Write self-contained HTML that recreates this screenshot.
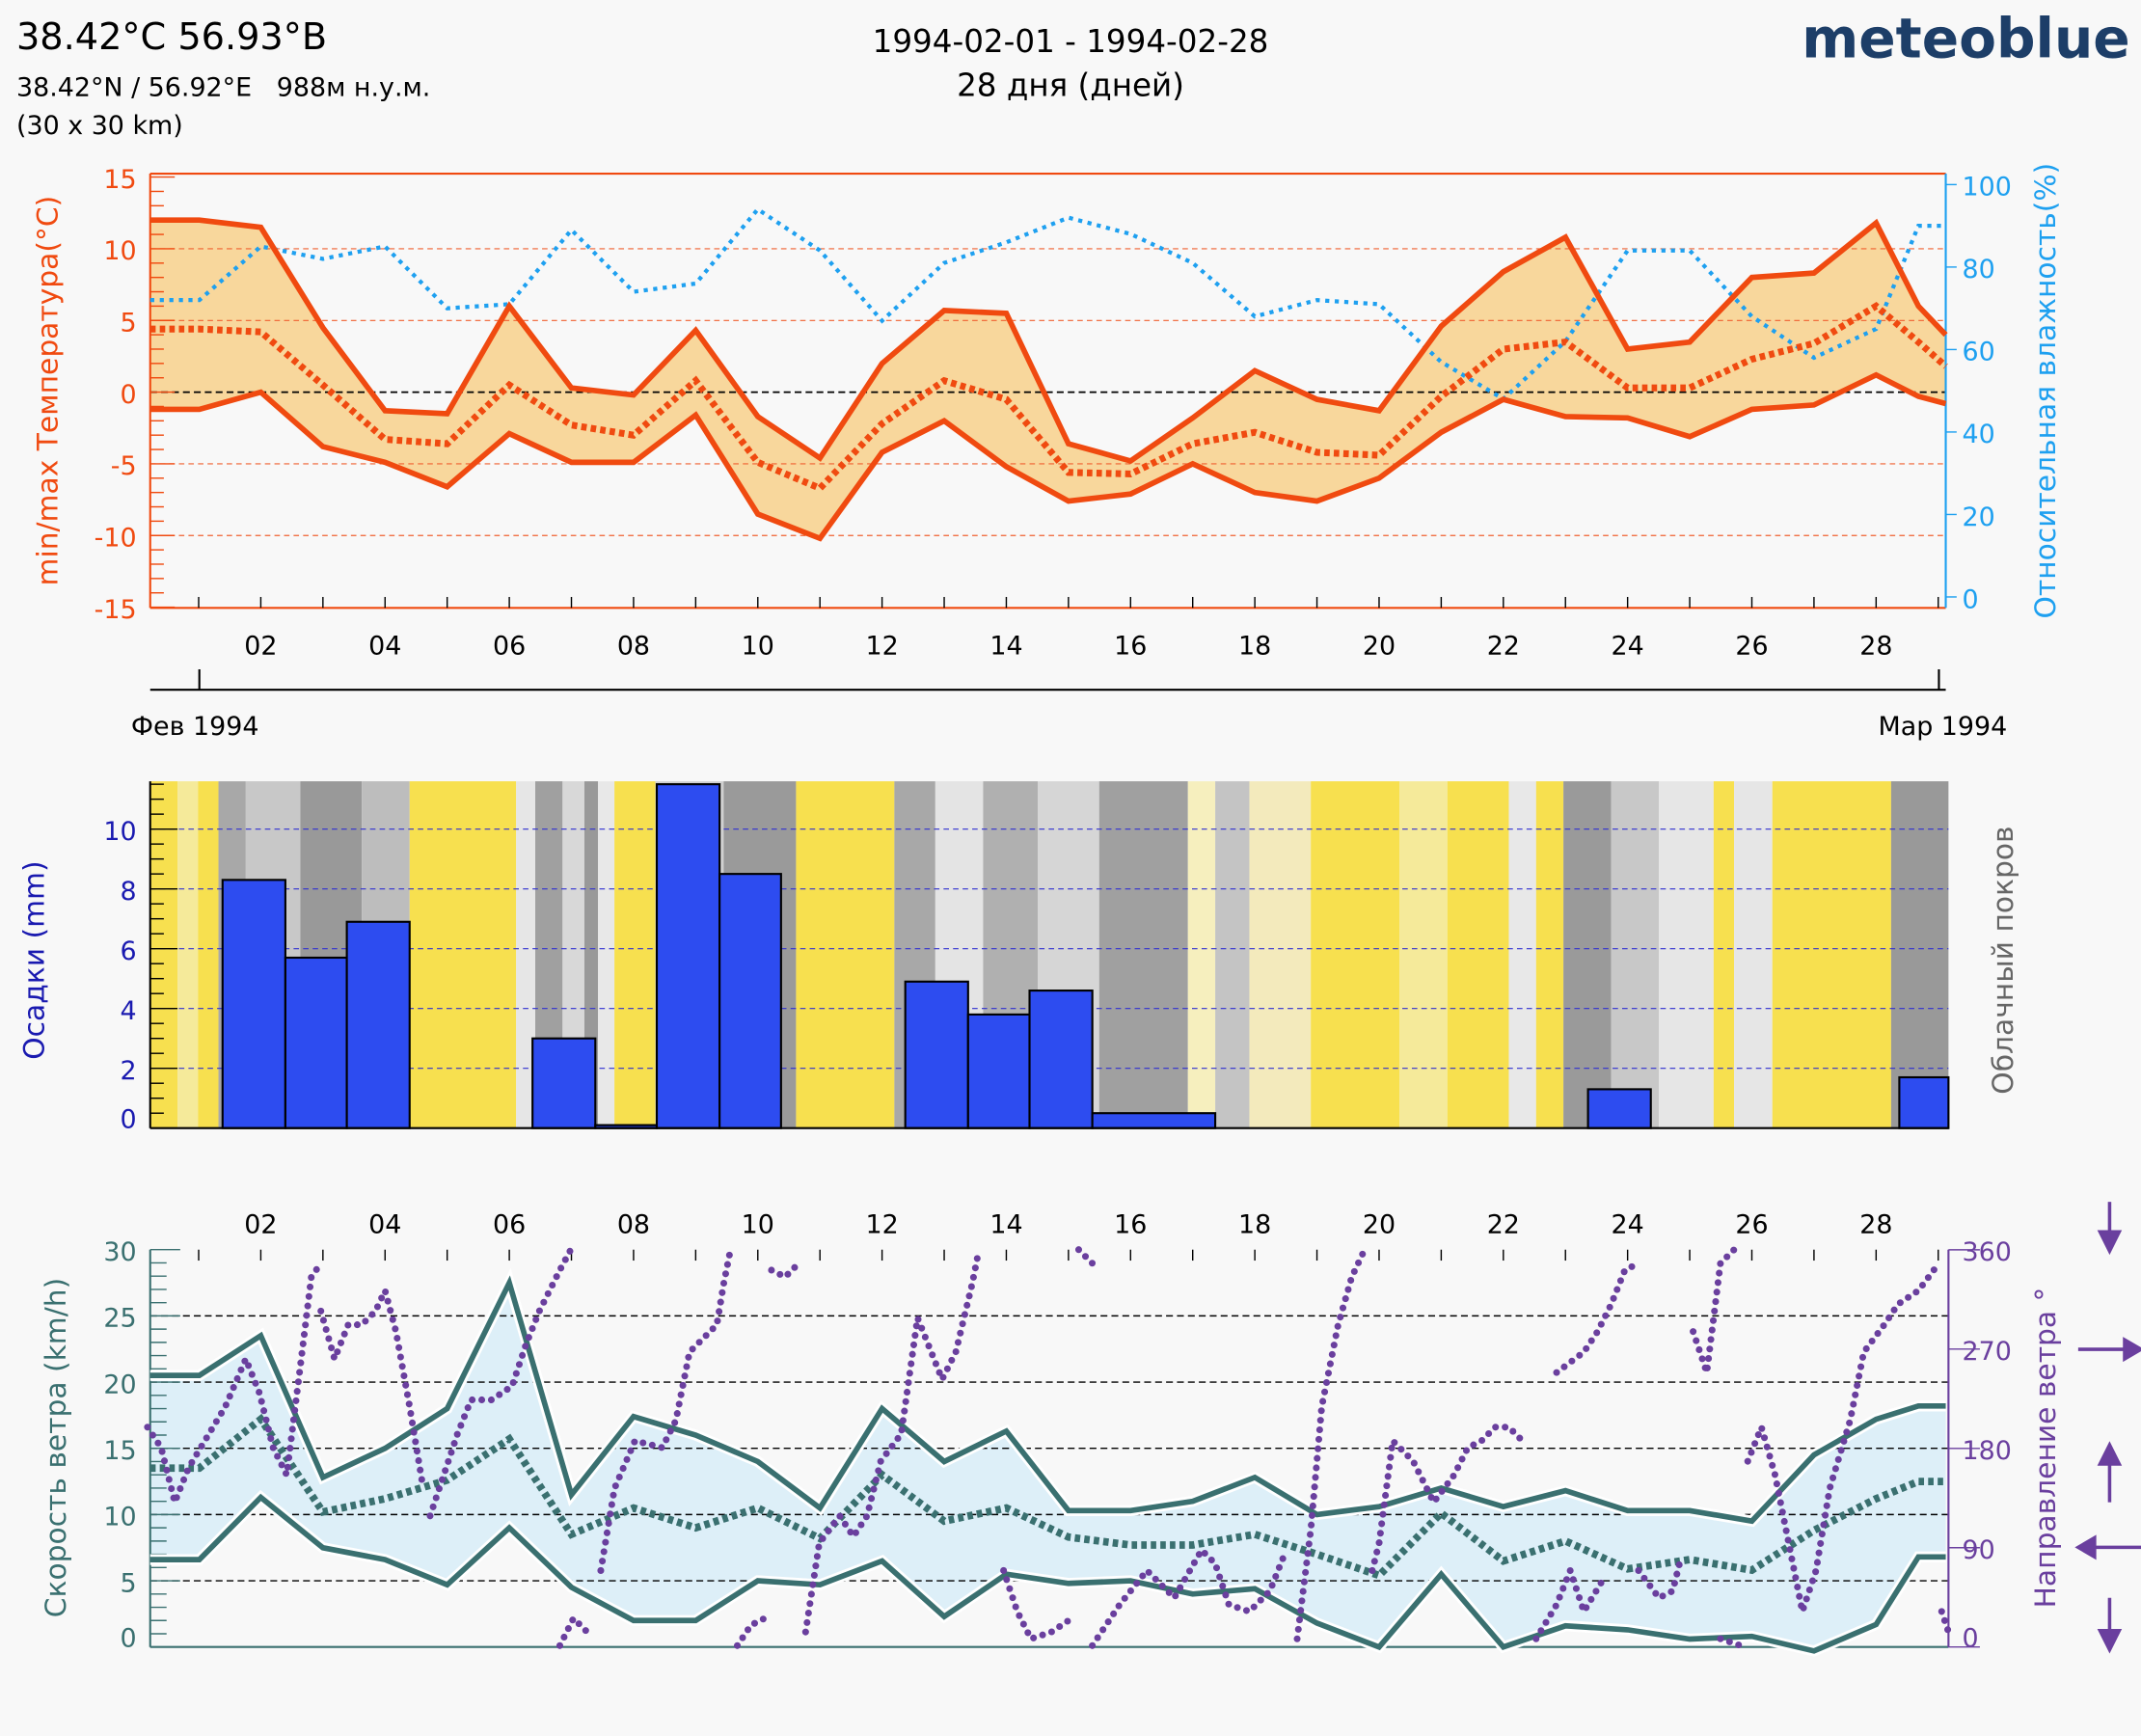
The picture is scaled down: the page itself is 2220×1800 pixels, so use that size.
<!DOCTYPE html>
<html><head><meta charset="utf-8">
<style>
html,body{margin:0;padding:0;background:#f8f8f8;}
svg{display:block;font-family:"DejaVu Sans","Liberation Sans",sans-serif;}
</style></head>
<body>
<svg id="s" width="2220" height="1800" viewBox="0 0 1568 1271" xmlns="http://www.w3.org/2000/svg">
<rect width="1568" height="1271" fill="#f8f8f8"/>
<text x="12" y="36" font-size="27" fill="#000">38.42°C 56.93°B</text>
<text x="12" y="70" font-size="19" fill="#000" xml:space="preserve">38.42°N / 56.92°E   988м н.у.м.</text>
<text x="12" y="98" font-size="19" fill="#000">(30 x 30 km)</text>
<text x="784" y="38" font-size="23" text-anchor="middle">1994-02-01 - 1994-02-28</text>
<text x="784" y="70" font-size="23" text-anchor="middle">28 дня (дней)</text>
<text x="1560" y="42" font-size="40" font-weight="bold" fill="#1d3e68" text-anchor="end">meteoblue</text>

<g id="top"></g>
<g id="mid"></g>
<g id="bot"></g>

<text transform="translate(42,286) rotate(-90)" font-size="21" fill="#f04a10" text-anchor="middle">min/max Температура(°C)</text>
<text transform="translate(1505,286) rotate(-90)" font-size="21" fill="#1ea0f0" text-anchor="middle">Относительная влажность(%)</text>
<text transform="translate(32,703) rotate(-90)" font-size="21" fill="#1a1ab0" text-anchor="middle">Осадки (mm)</text>
<text transform="translate(1474,703) rotate(-90)" font-size="21" fill="#666" text-anchor="middle">Облачный покров</text>
<text transform="translate(48,1060) rotate(-90)" font-size="21" fill="#3a7070" text-anchor="middle">Скорость ветра (km/h)</text>
<text transform="translate(1505,1060) rotate(-90)" font-size="21" fill="#6a3f9e" text-anchor="middle">Направление ветра °</text>

<line x1="110" y1="505" x2="1425" y2="505" stroke="#000" stroke-width="1.5"/>
<line x1="146" y1="490" x2="146" y2="505" stroke="#000" stroke-width="1.5"/>
<line x1="1420" y1="490" x2="1420" y2="505" stroke="#000" stroke-width="1.5"/>
<text x="96" y="538" font-size="19">Фев 1994</text>
<text x="1470" y="538" font-size="19" text-anchor="end">Мар 1994</text>

<g stroke="#6a3f9e" stroke-width="2.5" fill="#6a3f9e">
<line x1="1545" y1="880" x2="1545" y2="910"/><polygon points="1538,902 1552,902 1545,916"/>
<line x1="1522" y1="988" x2="1560" y2="988"/><polygon points="1556,981 1556,995 1568,988"/>
<line x1="1545" y1="1100" x2="1545" y2="1070"/><polygon points="1538,1072 1552,1072 1545,1058"/>
<line x1="1530" y1="1133" x2="1568" y2="1133"/><polygon points="1534,1126 1534,1140 1522,1133"/>
<line x1="1545" y1="1170" x2="1545" y2="1200"/><polygon points="1538,1194 1552,1194 1545,1208"/>
</g>

<script>
const NS="http://www.w3.org/2000/svg";
function el(p,t,a,txt){const e=document.createElementNS(NS,t);for(const k in a)e.setAttribute(k,a[k]);if(txt!==undefined)e.textContent=txt;document.getElementById(p).appendChild(e);return e;}
const X=[110,146];for(let d=2;d<=28;d++)X.push(100+45.5*d);X.push(1405,1425);
function pts(vals,f){return vals.map((v,i)=>X[i]+","+f(v).toFixed(1)).join(" ");}
const ty=t=>287-10.5*t, hy=h=>437-3.02*h;
const tmax=[12,12,11.5,4.5,-1.3,-1.5,6,0.3,-0.2,4.3,-1.7,-4.6,2,5.7,5.5,-3.6,-4.8,-1.8,1.5,-0.5,-1.3,4.6,8.4,10.8,3,3.5,8,8.3,11.8,6,4];
const tmin=[-1.2,-1.2,0,-3.8,-4.9,-6.6,-2.9,-4.9,-4.9,-1.6,-8.5,-10.2,-4.2,-2,-5.2,-7.6,-7.1,-5,-7,-7.6,-6,-2.8,-0.5,-1.7,-1.8,-3.1,-1.2,-0.9,1.2,-0.3,-0.8];
const tmean=[4.4,4.4,4.2,0.5,-3.3,-3.6,0.5,-2.3,-3,0.8,-4.9,-6.7,-2.2,0.8,-0.5,-5.6,-5.7,-3.6,-2.8,-4.2,-4.4,-0.3,3,3.5,0.3,0.3,2.3,3.4,6,3.5,1.8];
const hum=[72,72,85,82,85,70,71,89,74,76,94,84,67,81,86,92,88,81,68,72,71,57,48,62,84,84,68,58,65,90,90];
el("top","rect",{x:110,y:127,width:1315,height:318,fill:"#f8f8f8"});
el("top","polygon",{points:pts(tmax,ty)+" "+X.map((x,i)=>x+","+ty(tmin[i])).reverse().join(" "),fill:"#f8d79c"});
[10,5,-5,-10].forEach(t=>el("top","line",{x1:110,x2:1425,y1:ty(t),y2:ty(t),stroke:"#f06030","stroke-width":0.8,"stroke-dasharray":"4 3"}));
el("top","line",{x1:110,x2:1425,y1:287,y2:287,stroke:"#000","stroke-width":1.2,"stroke-dasharray":"5 3"});
el("top","line",{x1:110,x2:1425,y1:127,y2:127,stroke:"#f04a10","stroke-width":1.5});
el("top","line",{x1:110,x2:1425,y1:445,y2:445,stroke:"#f04a10","stroke-width":1.5});
el("top","line",{x1:110,x2:110,y1:127,y2:445,stroke:"#f04a10","stroke-width":1.5});
el("top","line",{x1:1425,x2:1425,y1:127,y2:445,stroke:"#1ea0f0","stroke-width":1.5});
for(let t=-15;t<=15;t++){el("top","line",{x1:110,x2:t%5==0?128:120,y1:ty(t),y2:ty(t),stroke:"#f04a10","stroke-width":1});}
[15,10,5,0,-5,-10,-15].forEach(t=>el("top","text",{x:100,y:ty(t)+8,"font-size":19,fill:"#f04a10","text-anchor":"end"},t));
[0,20,40,60,80,100].forEach(h=>{el("top","text",{x:1437,y:hy(h)+8,"font-size":19,fill:"#1ea0f0"},h);el("top","line",{x1:1425,x2:1433,y1:hy(h),y2:hy(h),stroke:"#1ea0f0"});});
for(let d=1;d<=29;d++){const x=100+45.5*d;el("top","line",{x1:x,x2:x,y1:437,y2:445,stroke:"#000"});if(d%2==0&&d<=28)el("top","text",{x:x,y:479,"font-size":19,"text-anchor":"middle"},(d<10?"0":"")+d);}
el("top","polyline",{points:pts(hum,hy),fill:"none",stroke:"#1ea0f0","stroke-width":3,"stroke-dasharray":"3 4"});
el("top","polyline",{points:pts(tmax,ty),fill:"none",stroke:"#f04a10","stroke-width":4});
el("top","polyline",{points:pts(tmin,ty),fill:"none",stroke:"#f04a10","stroke-width":4});
el("top","polyline",{points:pts(tmean,ty),fill:"none",stroke:"#f04a10","stroke-width":5,"stroke-dasharray":"4 3"});
const clouds=[[110,130,"#f7e04f"],[130,145,"#f5ea9a"],[145,160,"#f7e04f"],[160,180,"#a8a8a8"],[180,220,"#c8c8c8"],[220,265,"#999"],[265,300,"#bdbdbd"],[300,378,"#f7e04f"],[378,392,"#e6e6e6"],[392,412,"#a0a0a0"],[412,428,"#d8d8d8"],[428,438,"#999"],[438,450,"#e8e8e8"],[450,480,"#f7e04f"],[480,530,"#d0d0d0"],[530,583,"#9a9a9a"],[583,655,"#f7e04f"],[655,685,"#a8a8a8"],[685,720,"#e4e4e4"],[720,760,"#b0b0b0"],[760,805,"#d6d6d6"],[805,870,"#a0a0a0"],[870,890,"#f6efbe"],[890,915,"#c4c4c4"],[915,960,"#f3eabc"],[960,1025,"#f7e04f"],[1025,1060,"#f5ea9a"],[1060,1105,"#f7e04f"],[1105,1125,"#e8e8e8"],[1125,1145,"#f7e04f"],[1145,1180,"#9a9a9a"],[1180,1215,"#c8c8c8"],[1215,1255,"#e6e6e6"],[1255,1270,"#f7e04f"],[1270,1298,"#e6e6e6"],[1298,1385,"#f7e04f"],[1385,1427,"#999"]];
clouds.forEach(c=>el("mid","rect",{x:c[0],y:572,width:c[1]-c[0],height:254,fill:c[2]}));
const py=p=>826-21.9*p;
[2,4,6,8,10].forEach(p=>el("mid","line",{x1:110,x2:1427,y1:py(p),y2:py(p),stroke:"#3030d0","stroke-width":0.8,"stroke-dasharray":"4 3"}));
const bars=[[163,209,8.3],[209,254,5.7],[254,300,6.9],[390,436,3],[436,481,0.1],[481,527,11.5],[527,572,8.5],[663,709,4.9],[709,754,3.8],[754,800,4.6],[800,890,0.5],[1163,1209,1.3],[1391,1427,1.7]];
bars.forEach(b=>el("mid","rect",{x:b[0],y:py(b[2]),width:b[1]-b[0],height:826-py(b[2]),fill:"#2d4cf0",stroke:"#000","stroke-width":1.5}));
el("mid","line",{x1:110,x2:1427,y1:826,y2:826,stroke:"#000","stroke-width":1.5});
el("mid","line",{x1:110,x2:110,y1:572,y2:826,stroke:"#000","stroke-width":1.5});
for(let p=0;p<=11.5;p+=0.5)el("mid","line",{x1:110,x2:p%2==0?130:120,y1:py(p),y2:py(p),stroke:"#000","stroke-width":1});
[0,2,4,6,8,10].forEach(p=>el("mid","text",{x:100,y:py(p)+(p==0?0:8),"font-size":19,fill:"#1a1ab0","text-anchor":"end"},p));
const wy=v=>1206-9.7*v, dy=d=>1206-0.808*d;
const wmax=[20.5,20.5,23.5,12.8,15,18,27.5,11.5,17.4,16,14,10.5,18,14,16.3,10.3,10.3,11,12.8,10,10.6,12,10.6,11.8,10.3,10.3,9.5,14.5,17.2,18.2,18.2];
const wmin=[6.6,6.6,11.3,7.5,6.6,4.7,9,4.5,2,2,5,4.7,6.5,2.3,5.5,4.8,5,4,4.4,1.8,0,5.5,0,1.6,1.3,0.6,0.8,-0.3,1.7,6.8,6.8];
const wmean=[13.5,13.5,17.2,10.2,11.2,12.6,15.7,8.5,10.5,9,10.5,8.2,13,9.5,10.5,8.3,7.7,7.7,8.5,7,5.4,10.1,6.5,8,5.9,6.6,5.8,8.8,11.2,12.5,12.5];
el("bot","polygon",{points:pts(wmax,wy)+" "+X.map((x,i)=>x+","+wy(wmin[i])).reverse().join(" "),fill:"#ddeff8"});
[5,10,15,20,25].forEach(v=>el("bot","line",{x1:110,x2:1427,y1:wy(v),y2:wy(v),stroke:"#000","stroke-width":1,"stroke-dasharray":"5 3"}));
el("bot","line",{x1:110,x2:1427,y1:1206,y2:1206,stroke:"#3a7070","stroke-width":1.5});
el("bot","line",{x1:110,x2:110,y1:915,y2:1206,stroke:"#3a7070","stroke-width":1.5});
el("bot","line",{x1:1427,x2:1427,y1:915,y2:1206,stroke:"#6a3f9e","stroke-width":1.5});
for(let v=0;v<=30;v++)el("bot","line",{x1:110,x2:v%5==0?132:122,y1:wy(v),y2:wy(v),stroke:"#3a7070","stroke-width":1});
[0,5,10,15,20,25,30].forEach(v=>el("bot","text",{x:100,y:wy(v)+(v==0?0:8),"font-size":19,fill:"#3a7070","text-anchor":"end"},v));
[0,90,180,270,360].forEach(d=>{el("bot","text",{x:1437,y:dy(d)+(d==0?0:8),"font-size":19,fill:"#6a3f9e"},d);el("bot","line",{x1:1427,x2:1450,y1:dy(d),y2:dy(d),stroke:"#6a3f9e"});});
for(let d=1;d<=29;d++){const x=100+45.5*d;el("bot","line",{x1:x,x2:x,y1:915,y2:923,stroke:"#000"});if(d%2==0&&d<=28)el("bot","text",{x:x,y:903,"font-size":19,"text-anchor":"middle"},(d<10?"0":"")+d);}
el("bot","polyline",{points:pts(wmax,wy),fill:"none",stroke:"#fff","stroke-width":8});
el("bot","polyline",{points:pts(wmin,wy),fill:"none",stroke:"#fff","stroke-width":8});
el("bot","polyline",{points:pts(wmax,wy),fill:"none",stroke:"#3a7070","stroke-width":4});
el("bot","polyline",{points:pts(wmin,wy),fill:"none",stroke:"#3a7070","stroke-width":4});
el("bot","polyline",{points:pts(wmean,wy),fill:"none",stroke:"#3a7070","stroke-width":5.5,"stroke-dasharray":"4 3"});
const segs=[
[[108,1045],[118,1060],[128,1100],[138,1075],[150,1055],[165,1030],[180,995],[190,1020],[200,1060],[210,1080],[220,1000],[228,935],[235,925]],
[[235,960],[245,995],[255,970],[265,970],[275,960],[282,945],[290,975],[300,1030],[310,1090]],
[[315,1110],[325,1080],[335,1050],[345,1025],[360,1025],[375,1015],[385,985],[395,960],[410,930],[418,915]],
[[410,1205],[420,1185],[430,1195]],
[[440,1150],[450,1090],[465,1055],[485,1060],[495,1040],[505,990],[515,980],[525,970],[530,940],[535,915]],
[[540,1205],[550,1190],[560,1185]],
[[565,930],[575,935],[585,925]],
[[590,1195],[600,1130],[615,1110],[625,1125],[635,1110],[645,1070],[660,1050],[672,965],[680,985],[690,1010],[700,990],[712,940],[716,920]],
[[735,1150],[745,1180],[755,1200],[770,1195],[785,1185]],[[790,915],[800,925]],
[[800,1205],[820,1175],[840,1150],[860,1170],[880,1135],[890,1145],[900,1175],[915,1180],[930,1165],[940,1140]],
[[950,1200],[960,1120],[968,1030],[980,970],[990,935],[998,918]],
[[1005,1150],[1010,1130],[1020,1055],[1035,1070],[1050,1100],[1065,1080],[1075,1060],[1085,1055],[1095,1045],[1105,1045],[1115,1055]],
[[1125,1200],[1140,1175],[1150,1150],[1160,1180],[1175,1155]],
[[1140,1005],[1160,990],[1170,975],[1180,955],[1190,930],[1200,925]],
[[1200,1150],[1215,1170],[1225,1165],[1230,1145]],[[1240,975],[1250,1005],[1260,925],[1270,915]],
[[1260,1200],[1275,1205]],
[[1280,1070],[1290,1045],[1300,1080],[1310,1130],[1320,1180],[1330,1150],[1340,1090],[1355,1040],[1365,990],[1380,970],[1390,955],[1405,945],[1420,925]],
[[1422,1180],[1427,1195]]];
segs.forEach(s=>el("bot","polyline",{points:s.map(p=>p.join(",")).join(" "),fill:"none",stroke:"#6a3f9e","stroke-width":5,"stroke-linecap":"round","stroke-dasharray":"0 7"}));
</script>
</svg>
</body></html>
